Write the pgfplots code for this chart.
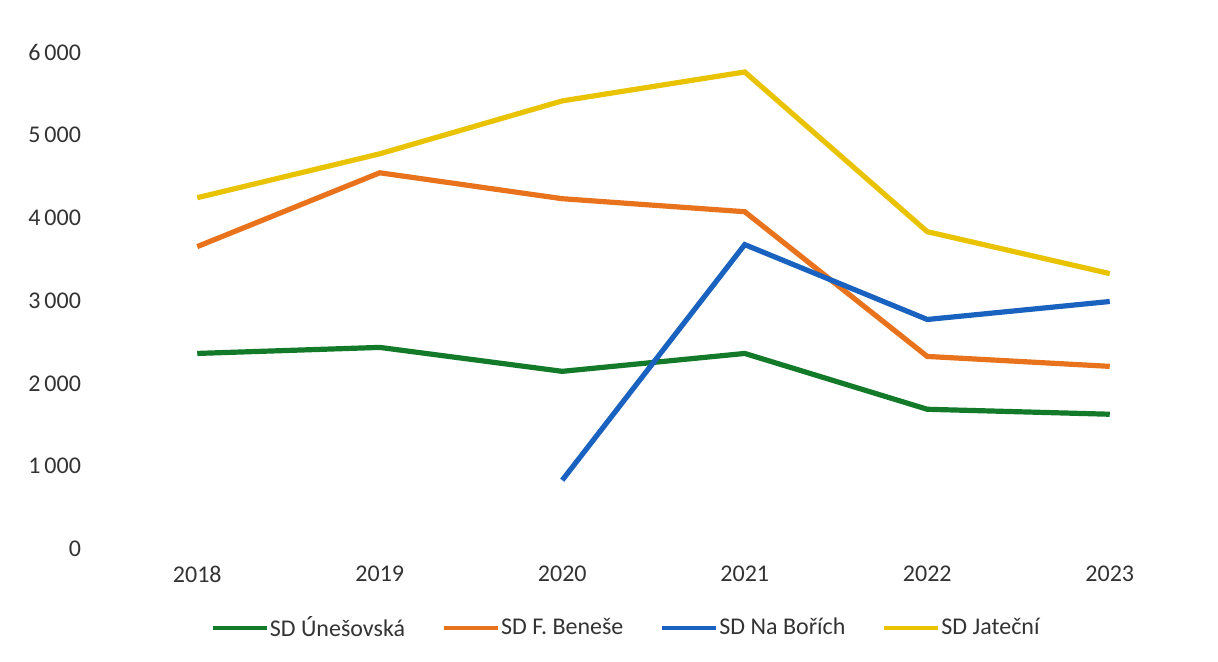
\documentclass[border=0pt]{standalone}
\usepackage{pgfplots}
\pgfplotsset{compat=1.18}
\usepackage{fontspec}
\setmainfont{Carlito}
\definecolor{cgreen}{HTML}{137A2A}
\definecolor{corange}{HTML}{E8731C}
\definecolor{cblue}{HTML}{1A62C0}
\definecolor{cyellow}{HTML}{E9C300}
\begin{document}
\begin{tikzpicture}[x=1pt,y=1pt]
\useasboundingbox (0,0) rectangle (609,330.5);
\begin{axis}[
  at={(53pt,56pt)}, anchor=south west,
  scale only axis, width=547.5pt, height=248.5pt,
  xmin=-0.5, xmax=5.5, ymin=0, ymax=6000,
  xtick={0,1,2,3,4,5},
  xticklabels={2018,2019,2020,2021,2022,2023},
  ytick={0,1000,2000,3000,4000,5000,6000},
  yticklabels={0,1\,000,2\,000,3\,000,4\,000,5\,000,6\,000},
  axis line style={draw=none},
  tick style={draw=none},
  font=\fontsize{12}{14}\selectfont,
  ticklabel style={font=\fontsize{12}{14}\selectfont, text=black!80},
  yticklabel style={xshift=-9pt},
  xticklabel style={yshift=-5pt},
  legend style={at={(0.476,-0.159)}, anchor=center, draw=none, fill=none,
    legend columns=-1, font=\fontsize{12}{14}\selectfont, text=black!80,
    /tikz/every even column/.append style={column sep=16.5pt}},
  legend image code/.code={\draw[#1, line width=2pt] (0pt,0pt) -- (27pt,0pt);},
  legend cell align=left,
]
\addplot[cgreen, line width=2.6pt] coordinates {(0,2361) (1,2434) (2,2145) (3,2361) (4,1687) (5,1627)};
\addlegendentry{\hspace{-1.5pt}SD Únešovská}
\addplot[corange, line width=2.6pt] coordinates {(0,3651) (1,4542) (2,4229) (3,4072) (4,2325) (5,2205)};
\addlegendentry{\hspace{-1.5pt}SD F. Beneše}
\addplot[cblue, line width=2.6pt] coordinates {(2,831) (3,3675) (4,2771) (5,2988)};
\addlegendentry{\hspace{-1.5pt}SD Na Bořích}
\addplot[cyellow, line width=2.6pt] coordinates {(0,4241) (1,4771) (2,5410) (3,5759) (4,3831) (5,3325)};
\addlegendentry{\hspace{-1.5pt}SD Jateční}
\end{axis}
\end{tikzpicture}
\end{document}
